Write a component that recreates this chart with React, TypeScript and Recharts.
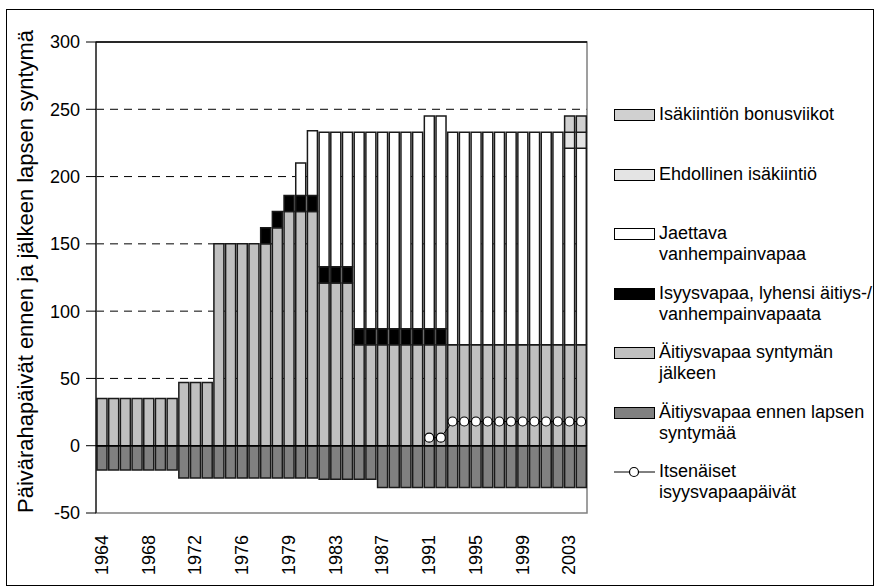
import React from "react";
import {
  Bar,
  CartesianGrid,
  ComposedChart,
  Line,
  ReferenceArea,
  ReferenceLine,
  XAxis,
  YAxis,
} from "recharts";

const FONT = '"Liberation Sans", Arial, sans-serif';

// categories (1978 appears twice: the reform came mid-year)
const years = [
  "1964", "1965", "1966", "1967", "1968", "1969", "1970", "1971", "1972", "1973",
  "1974", "1975", "1976", "1977", "1978", "1978", "1979", "1980", "1981", "1982",
  "1983", "1984", "1985", "1986", "1987", "1988", "1989", "1990", "1991", "1992",
  "1993", "1994", "1995", "1996", "1997", "1998", "1999", "2000", "2001", "2002",
  "2003", "2004",
];

// Äitiysvapaa ennen lapsen syntymää (negative = before birth)
const ennen = [
  -18, -18, -18, -18, -18, -18, -18, -24, -24, -24,
  -24, -24, -24, -24, -24, -24, -24, -24, -24, -25,
  -25, -25, -25, -25, -31, -31, -31, -31, -31, -31,
  -31, -31, -31, -31, -31, -31, -31, -31, -31, -31,
  -31, -31,
];

// Äitiysvapaa syntymän jälkeen
const jalkeen = [
  35, 35, 35, 35, 35, 35, 35, 47, 47, 47,
  150, 150, 150, 150, 150, 162, 174, 174, 174, 121,
  121, 121, 75, 75, 75, 75, 75, 75, 75, 75,
  75, 75, 75, 75, 75, 75, 75, 75, 75, 75,
  75, 75,
];

// Isyysvapaa, lyhensi äitiys-/vanhempainvapaata
const isyys = [
  0, 0, 0, 0, 0, 0, 0, 0, 0, 0,
  0, 0, 0, 0, 12, 12, 12, 12, 12, 12,
  12, 12, 12, 12, 12, 12, 12, 12, 12, 12,
  0, 0, 0, 0, 0, 0, 0, 0, 0, 0,
  0, 0,
];

// Jaettava vanhempainvapaa
const jaettava = [
  0, 0, 0, 0, 0, 0, 0, 0, 0, 0,
  0, 0, 0, 0, 0, 0, 0, 24, 48, 100,
  100, 100, 146, 146, 146, 146, 146, 146, 158, 158,
  158, 158, 158, 158, 158, 158, 158, 158, 158, 158,
  146, 146,
];

// Ehdollinen isäkiintiö
const ehdollinen = [
  0, 0, 0, 0, 0, 0, 0, 0, 0, 0,
  0, 0, 0, 0, 0, 0, 0, 0, 0, 0,
  0, 0, 0, 0, 0, 0, 0, 0, 0, 0,
  0, 0, 0, 0, 0, 0, 0, 0, 0, 0,
  12, 12,
];

// Isäkiintiön bonusviikot
const bonus = [
  0, 0, 0, 0, 0, 0, 0, 0, 0, 0,
  0, 0, 0, 0, 0, 0, 0, 0, 0, 0,
  0, 0, 0, 0, 0, 0, 0, 0, 0, 0,
  0, 0, 0, 0, 0, 0, 0, 0, 0, 0,
  12, 12,
];

// Itsenäiset isyysvapaapäivät
const itsenaiset: (number | null)[] = [
  null, null, null, null, null, null, null, null, null, null,
  null, null, null, null, null, null, null, null, null, null,
  null, null, null, null, null, null, null, null, 6, 6,
  18, 18, 18, 18, 18, 18, 18, 18, 18, 18,
  18, 18,
];

const yTicks = [-50, 0, 50, 100, 150, 200, 250, 300];

const data = years.map((year, i) => ({
  year,
  ennen: ennen[i],
  jalkeen: jalkeen[i],
  isyys: isyys[i],
  jaettava: jaettava[i],
  ehdollinen: ehdollinen[i],
  bonus: bonus[i],
  itsenaiset: itsenaiset[i],
}));

const legendItems = [
  { label: ["Isäkiintiön bonusviikot"], fill: "#d0d0d0" },
  { label: ["Ehdollinen isäkiintiö"], fill: "#e4e4e4" },
  { label: ["Jaettava", "vanhempainvapaa"], fill: "#ffffff" },
  { label: ["Isyysvapaa, lyhensi äitiys-/", "vanhempainvapaata"], fill: "#000000" },
  { label: ["Äitiysvapaa syntymän", "jälkeen"], fill: "#c0c0c0" },
  { label: ["Äitiysvapaa ennen lapsen", "syntymää"], fill: "#808080" },
  { label: ["Itsenäiset", "isyysvapaapäivät"], fill: null },
];

const barStroke = "#1a1a1a";

const XTick = (props: any) => {
  const { x, y, payload } = props;
  const ty = y + 14;
  return (
    <text
      x={x}
      y={ty}
      transform={`rotate(-90, ${x}, ${ty})`}
      textAnchor="end"
      dominantBaseline="central"
      fontSize={18}
      fontFamily={FONT}
      fill="#000"
    >
      {payload.value}
    </text>
  );
};

export default function App() {
  return (
    <div
      style={{
        position: "absolute",
        left: 0,
        top: 0,
        width: 875,
        height: 587,
        background: "#fff",
        fontFamily: FONT,
      }}
    >
      <div
        style={{
          position: "absolute",
          left: 6,
          top: 9,
          width: 866,
          height: 575,
          border: "1px solid #000",
        }}
      />
      <ComposedChart
        width={875}
        height={587}
        data={data}
        stackOffset="sign"
        barCategoryGap={1}
        margin={{ top: 42, right: 288, bottom: 0, left: 0 }}
        style={{ position: "absolute", left: 0, top: 0 }}
      >
        <CartesianGrid
          vertical={false}
          horizontalValues={[50, 100, 150, 200, 250]}
          stroke="#000"
          strokeDasharray="8 6"
        />
        <XAxis
          dataKey="year"
          interval={3}
          height={74}
          tickLine={false}
          axisLine={false}
          tick={<XTick />}
        />
        <YAxis
          width={96}
          domain={[-50, 300]}
          ticks={yTicks}
          interval={0}
          tickSize={10}
          tickMargin={6}
          axisLine={{ stroke: "#000", strokeWidth: 1 }}
          tickLine={{ stroke: "#000" }}
          tick={{ fill: "#000", fontSize: 18, fontFamily: FONT }}
        />
        <ReferenceArea y1={-50} y2={300} fill="none" stroke="#808080" strokeWidth={1.5} />
        <Bar dataKey="ennen" stackId="a" fill="#808080" stroke={barStroke} strokeWidth={1.5} isAnimationActive={false} />
        <Bar dataKey="jalkeen" stackId="a" fill="#c0c0c0" stroke={barStroke} strokeWidth={1.5} isAnimationActive={false} />
        <Bar dataKey="isyys" stackId="a" fill="#000000" stroke={barStroke} strokeWidth={1.5} isAnimationActive={false} />
        <Bar dataKey="jaettava" stackId="a" fill="#ffffff" stroke={barStroke} strokeWidth={1.5} isAnimationActive={false} />
        <Bar dataKey="ehdollinen" stackId="a" fill="#e4e4e4" stroke={barStroke} strokeWidth={1.5} isAnimationActive={false} />
        <Bar dataKey="bonus" stackId="a" fill="#d0d0d0" stroke={barStroke} strokeWidth={1.5} isAnimationActive={false} />
        <ReferenceLine y={0} stroke="#000" strokeWidth={1.5} />
        <ReferenceLine y={300} stroke="#000" strokeWidth={1.5} />
        <Line
          dataKey="itsenaiset"
          stroke="#000"
          strokeWidth={1}
          dot={{ r: 4.5, fill: "#fff", stroke: "#000", strokeWidth: 1.2 }}
          connectNulls={false}
          isAnimationActive={false}
        />
      </ComposedChart>

      {/* y-axis title, clipped at the top like in the original */}
      <div
        style={{
          position: "absolute",
          left: 0,
          top: 29,
          width: 60,
          height: 500,
          overflow: "hidden",
        }}
      >
        <svg width={60} height={500}>
          <text
            x={33}
            y={484}
            transform="rotate(-90, 33, 484)"
            fontSize={22}
            fontFamily={FONT}
            fill="#000"
          >
            Päivärahapäivät ennen ja jälkeen lapsen syntymää
          </text>
        </svg>
      </div>

      {/* legend */}
      {legendItems.map((item, i) => (
        <div
          key={i}
          style={{
            position: "absolute",
            left: 614,
            top: 104 + i * 59.5,
            display: "flex",
            alignItems: "flex-start",
            fontSize: 18,
            lineHeight: "21px",
            color: "#000",
          }}
        >
          {item.fill ? (
            <div
              style={{
                width: 39,
                height: 10,
                marginTop: 5,
                background: item.fill,
                border: "1px solid #000",
              }}
            />
          ) : (
            <svg width={41} height={21} style={{ display: "block" }}>
              <line x1={0} y1={11} x2={41} y2={11} stroke="#000" strokeWidth={1} />
              <circle cx={20} cy={11} r={4.5} fill="#fff" stroke="#000" strokeWidth={1.2} />
            </svg>
          )}
          <div style={{ marginLeft: 4, whiteSpace: "nowrap" }}>
            {item.label.map((l, j) => (
              <div key={j}>{l}</div>
            ))}
          </div>
        </div>
      ))}
    </div>
  );
}
